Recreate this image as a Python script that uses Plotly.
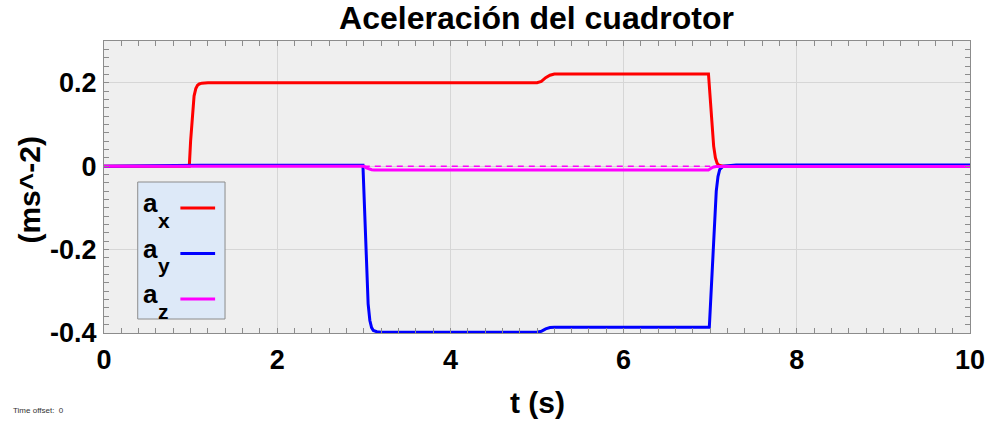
import plotly.graph_objects as go

# ---- data ----
t_ax = [0, 0.985, 1.0, 1.02, 1.04, 1.06, 1.08, 1.10, 1.13, 1.2, 5.0, 5.05, 5.10, 5.15, 5.2,
        6.98, 7.0, 7.02, 7.04, 7.06, 7.08, 7.10, 7.15, 10]
ax_vals = [0, 0, 0.06, 0.125, 0.168, 0.186, 0.194, 0.197, 0.199, 0.2, 0.2, 0.203, 0.212, 0.218, 0.221,
           0.221, 0.16, 0.095, 0.048, 0.02, 0.007, 0.002, 0.0, 0.0]

t_ay = [0, 1.1, 2.99, 3.01, 3.03, 3.05, 3.07, 3.09, 3.11, 3.15, 3.2, 5.0, 5.05, 5.10, 5.15, 5.2,
        6.99, 7.01, 7.03, 7.05, 7.07, 7.09, 7.11, 7.15, 7.3, 10]
ay_vals = [0, 0.002, 0.002, -0.12, -0.25, -0.33, -0.37, -0.387, -0.394, -0.397, -0.398, -0.398, -0.396,
           -0.390, -0.387, -0.386, -0.386, -0.30, -0.20, -0.12, -0.06, -0.025, -0.008, 0.0, 0.003, 0.003]

t_az = [0, 3.0, 3.03, 3.06, 3.09, 3.12, 6.98, 7.01, 7.04, 7.07, 10]
az_vals = [0, 0, -0.004, -0.007, -0.0085, -0.009, -0.009, -0.005, -0.002, -0.001, -0.001]

t_ref = [3.0, 7.0]
ref_vals = [0, 0]

series_names = ["a<sub>x</sub>", "a<sub>y</sub>", "a<sub>z</sub>"]
colors = ["#ff0000", "#0000ff", "#ff00ff"]
x_ticks = [0, 2, 4, 6, 8, 10]
y_ticks = [-0.4, -0.2, 0, 0.2]
y_tick_text = ["-0.4", "-0.2", "0", "0.2"]

FONT = "Liberation Sans, Arial, Helvetica, sans-serif"
W, H = 997, 421
L, R, T, B = 104, 20, 41, 88
PW, PH = W - L - R, H - T - B


def px(x):
    return (x - L) / PW


def py(y):
    return (H - B - y) / PH


fig = go.Figure()
fig.add_trace(go.Scatter(x=t_ax, y=ax_vals, mode="lines", line=dict(color=colors[0], width=3),
                         showlegend=False))
fig.add_trace(go.Scatter(x=t_ay, y=ay_vals, mode="lines", line=dict(color=colors[1], width=3),
                         showlegend=False))
fig.add_trace(go.Scatter(x=t_ref, y=ref_vals, mode="lines",
                         line=dict(color=colors[2], width=1.5, dash="6px,5px"), showlegend=False))
fig.add_trace(go.Scatter(x=t_az, y=az_vals, mode="lines", line=dict(color=colors[2], width=3),
                         showlegend=False))

axis_common = dict(showline=True, linecolor="#8c8c8c", linewidth=1, mirror="allticks",
                   ticks="inside", ticklen=5, tickcolor="#8c8c8c",
                   showgrid=True, gridcolor="#d6d6d6", gridwidth=1, zeroline=False,
                   ticklabeloverflow="allow",
                   tickfont=dict(family=FONT, size=27, color="black", weight="bold"))

fig.update_xaxes(range=[0, 10], tickvals=x_ticks, ticktext=[str(v) for v in x_ticks],
                 ticklabelstandoff=3,
                 minor=dict(dtick=0.2, ticks="inside", ticklen=5, tickcolor="#8c8c8c", showgrid=False),
                 **axis_common)
fig.update_yaxes(range=[-0.4, 0.3], tickvals=y_ticks, ticktext=y_tick_text,
                 ticklabelstandoff=1,
                 minor=dict(dtick=0.02, ticks="inside", ticklen=5, tickcolor="#8c8c8c", showgrid=False),
                 **axis_common)

# legend box
shapes = [dict(type="rect", xref="paper", yref="paper", x0=px(138), x1=px(226), y0=py(319), y1=py(182),
               fillcolor="#dde9f8", line=dict(color="#8c8c8c", width=1), layer="above")]
annotations = []
for i, (name, c) in enumerate(zip(series_names, colors)):
    ay_px = 203 + i * 45.5
    sub = ["x", "y", "z"][i]
    annotations.append(dict(xref="paper", yref="paper", x=px(151), y=py(ay_px), text="<b>a</b>",
                            showarrow=False, xanchor="center", yanchor="middle",
                            font=dict(family=FONT, size=26, color="black")))
    annotations.append(dict(xref="paper", yref="paper", x=px(164), y=py(ay_px + 17), text="<b>" + sub + "</b>",
                            showarrow=False, xanchor="center", yanchor="middle",
                            font=dict(family=FONT, size=21, color="black")))
    shapes.append(dict(type="line", xref="paper", yref="paper", x0=px(181), x1=px(216),
                       y0=py(ay_px + 5), y1=py(ay_px + 5), line=dict(color=c, width=3), layer="above"))

annotations.append(dict(xref="paper", yref="paper", x=px(541), y=py(402), text="<b>t (s)</b>",
                        showarrow=False, xanchor="center", yanchor="middle",
                        font=dict(family=FONT, size=30, color="black")))
annotations.append(dict(xref="paper", yref="paper", x=px(29), y=py(190), text="<b>(ms^-2)</b>",
                        showarrow=False, xanchor="center", yanchor="middle", textangle=-90,
                        font=dict(family=FONT, size=30, color="black")))
annotations.append(dict(xref="paper", yref="paper", x=px(10), y=py(410), text="Time offset:  0",
                        showarrow=False, xanchor="left", yanchor="middle",
                        font=dict(family=FONT, size=8, color="#333333")))

fig.update_layout(
    width=W, height=H,
    margin=dict(l=L, r=R, t=T, b=B),
    paper_bgcolor="white", plot_bgcolor="#efefef",
    title=dict(text="<b>Aceleración del cuadrotor</b>", x=px(540), xref="paper", xanchor="center",
               y=1 - 18 / H, yref="container", yanchor="middle",
               font=dict(family=FONT, size=32, color="black")),
    shapes=shapes, annotations=annotations, showlegend=False,
)

fig.write_html("out.html")
